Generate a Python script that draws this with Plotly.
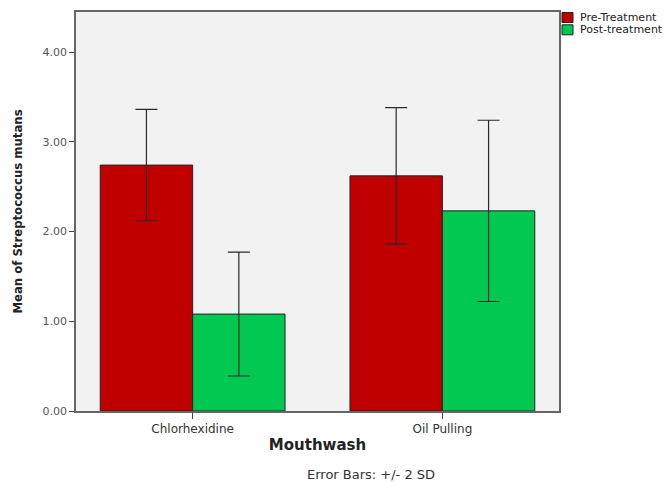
import plotly.graph_objects as go

categories = ["Chlorhexidine", "Oil Pulling"]
pre_means = [2.74, 2.62]
pre_err = [0.62, 0.76]
post_means = [1.08, 2.23]
post_err = [0.69, 1.01]
series_names = ["Pre-Treatment", "Post-treatment"]
series_colors = ["#c00000", "#00c850"]
y_ticks = [0, 1, 2, 3, 4]
y_tick_labels = ["0.00", "1.00", "2.00", "3.00", "4.00"]

# plot area geometry in pixels (for paper-coordinate conversions of legend/notes)
W, H = 671, 482
L, R, T, B = 76, 112, 12, 71
PW, PH = W - L - R, H - T - B


def px_x(x):
    return (x - L) / PW


def px_y(y):
    return (H - B - y) / PH


err_style = dict(type="data", thickness=1.2, width=11, color="#2a2a2a")

fig = go.Figure()
for name, means, errs, col in zip(series_names, [pre_means, post_means], [pre_err, post_err], series_colors):
    fig.add_trace(go.Bar(
        x=categories, y=means, name=name, showlegend=False,
        marker=dict(color=col, line=dict(color="#222222", width=1)),
        error_y=dict(array=errs, **err_style),
    ))

shapes = []
annotations = []
for i, (name, col) in enumerate(zip(series_names, series_colors)):
    y0 = 12.5 + i * 12.3
    shapes.append(dict(type="rect", xref="paper", yref="paper",
                       x0=px_x(562), x1=px_x(573), y0=px_y(y0 + 10), y1=px_y(y0),
                       fillcolor=col, line=dict(color="#222222", width=1)))
    annotations.append(dict(text=name, xref="paper", yref="paper",
                            x=px_x(578), y=px_y(y0 + 5), xanchor="left", yanchor="middle",
                            showarrow=False, font=dict(size=11, color="#222222")))

annotations.append(dict(text="Error Bars: +/- 2 SD", xref="paper", yref="paper",
                        x=px_x(371), y=px_y(474), xanchor="center", yanchor="middle",
                        showarrow=False, font=dict(size=13, color="#333333")))

fig.update_layout(
    width=W, height=H,
    margin=dict(l=L, r=R, t=T, b=B, autoexpand=False),
    paper_bgcolor="white",
    plot_bgcolor="#f2f2f2",
    barmode="group",
    bargap=0.26,
    bargroupgap=0,
    showlegend=False,
    font=dict(family="DejaVu Sans", color="#222222"),
    shapes=shapes,
    annotations=annotations,
)
fig.update_xaxes(
    range=[-0.467, 1.467], showline=True, mirror=True, linecolor="#666666", linewidth=1.5,
    ticks="outside", ticklen=6, tickcolor="#444444",
    tickfont=dict(size=12, color="#333333"),
    title=dict(text="<b>Mouthwash</b>", font=dict(size=15, color="#222222"), standoff=4),
)
fig.update_yaxes(
    range=[0, 4.446], showline=True, mirror=True, linecolor="#666666", linewidth=1.5,
    tickvals=y_ticks, ticktext=y_tick_labels, showgrid=False, zeroline=False,
    ticks="outside", ticklen=5, tickcolor="#444444",
    tickfont=dict(size=11, color="#555555"),
    title=dict(text="<b>Mean of Streptococcus mutans</b>",
               font=dict(size=13, family="Liberation Sans Narrow, DejaVu Sans Condensed, Arial Narrow", color="#222222"),
               standoff=17),
)

fig.write_html(
    "out.html",
    config={"displayModeBar": False},
    post_script="document.body.style.margin='0px';document.body.style.overflow='hidden';",
)
